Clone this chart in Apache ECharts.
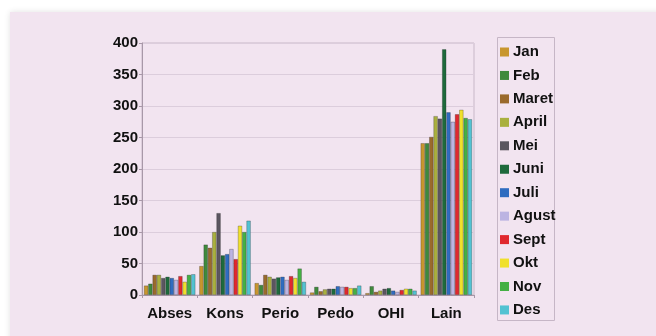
<!DOCTYPE html>
<html>
<head>
<meta charset="utf-8">
<script src="https://cdn.jsdelivr.net/npm/echarts@6/dist/echarts.min.js"></script>
<style>
  html, body { margin: 0; padding: 0; background: #ffffff; }
  #chart { width: 656px; height: 336px; }
</style>
</head>
<body>
<div id="chart"></div>
<script>
// Kategori kunjungan
const categories = ['Abses', 'Kons', 'Perio', 'Pedo', 'OHI', 'Lain'];
const months = ['Jan', 'Feb', 'Maret', 'April', 'Mei', 'Juni', 'Juli', 'Agust', 'Sept', 'Okt', 'Nov', 'Des'];
const yTicks = [0, 50, 100, 150, 200, 250, 300, 350, 400];

// Jumlah kasus per bulan, urutan mengikuti categories
const jan   = [15, 46, 19, 4, 3, 241];
const feb   = [18, 80, 16, 13, 14, 241];
const maret = [32, 75, 32, 6, 5, 251];
const april = [32, 100, 29, 9, 7, 284];
const mei   = [27, 130, 26, 10, 10, 280];
const juni  = [29, 63, 28, 10, 11, 390];
const juli  = [27, 65, 29, 14, 7, 290];
const agust = [24, 73, 24, 13, 5, 275];
const sept  = [30, 57, 30, 13, 8, 287];
const okt   = [21, 110, 27, 11, 10, 294];
const nov   = [32, 100, 42, 11, 10, 281];
const des   = [33, 118, 21, 15, 7, 279];

const monthData = [jan, feb, maret, april, mei, juni, juli, agust, sept, okt, nov, des];
const colors = ['#c8962e', '#3f8a3c', '#9a6a2c', '#a9b03e', '#5b5660', '#1e6a3c',
                '#2f6cc0', '#bcb4e2', '#e0282e', '#f0e02c', '#44b044', '#52c2d2'];

const chart = echarts.init(document.getElementById('chart'), null, { renderer: 'canvas' });

const labelFont = { color: '#111', fontWeight: 'bold', fontSize: 15, fontFamily: 'Liberation Sans, Arial, sans-serif' };

chart.setOption({
  animation: false,
  color: colors,
  graphic: [
    {
      type: 'rect',
      z: -10,
      shape: { x: 10, y: 12, width: 660, height: 340 },
      style: { fill: '#f2e4f0', shadowBlur: 6, shadowColor: 'rgba(0,0,0,0.12)' }
    },
    {
      type: 'rect',
      z: -5,
      shape: { x: 497.5, y: 37.5, width: 57, height: 283 },
      style: { fill: 'rgba(0,0,0,0)', stroke: '#c6b6c6', lineWidth: 1 }
    }
  ],
  grid: {
    left: 142, right: 182, top: 43, bottom: 41,
    show: true, borderColor: '#c8b8c8', borderWidth: 1, backgroundColor: 'transparent'
  },
  legend: {
    orient: 'vertical',
    left: 500, top: 44,
    padding: 0,
    itemWidth: 9, itemHeight: 9, itemGap: 7.45,
    icon: 'rect',
    itemStyle: { borderWidth: 0 },
    textStyle: Object.assign({ lineHeight: 16, padding: [0, 0, 0, -1] }, labelFont),
    data: months
  },
  xAxis: {
    type: 'category',
    data: categories,
    axisLine: { lineStyle: { color: '#a898a8' } },
    axisTick: { show: true, length: 3, lineStyle: { color: '#a898a8' } },
    axisLabel: Object.assign({ margin: 11, interval: 0 }, labelFont)
  },
  yAxis: {
    type: 'value',
    min: 0, max: yTicks[yTicks.length - 1], interval: yTicks[1] - yTicks[0],
    axisLine: { show: true, lineStyle: { color: '#a898a8' } },
    axisTick: { show: true, length: 3, lineStyle: { color: '#a898a8' } },
    splitLine: { lineStyle: { color: '#dccddc' } },
    axisLabel: Object.assign({ margin: 4 }, labelFont)
  },
  series: months.map((m, i) => ({
    name: m,
    type: 'bar',
    data: monthData[i],
    barGap: '0%',
    barCategoryGap: '7%',
    itemStyle: { color: colors[i], borderColor: 'rgba(30,30,30,0.45)', borderWidth: 0.6 }
  }))
});
</script>
</body>
</html>
